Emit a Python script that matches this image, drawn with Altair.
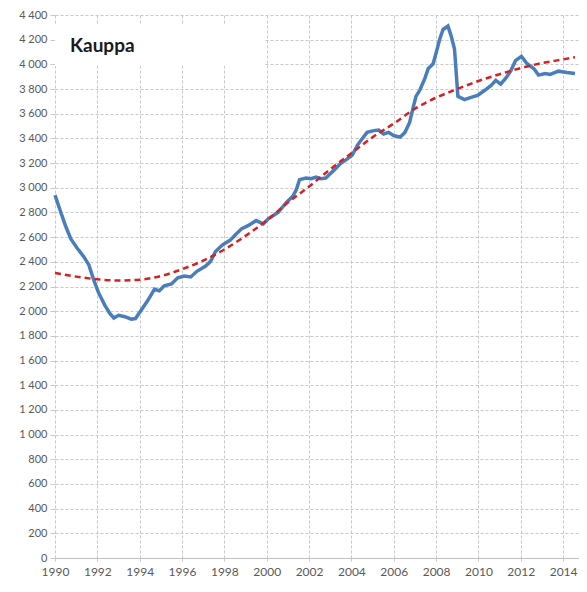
import altair as alt
import pandas as pd

# Blue series
blue_years = [1990.0, 1990.25, 1990.5, 1990.75, 1991.05, 1991.35, 1991.6, 1991.82, 1992.05, 1992.35,
              1992.6, 1992.78, 1993.0, 1993.3, 1993.6, 1993.8, 1994.07, 1994.38, 1994.7, 1994.93,
              1995.16, 1995.5, 1995.8, 1996.1, 1996.41, 1996.72, 1997.1, 1997.35, 1997.58, 1997.9,
              1998.28, 1998.5, 1998.82, 1999.14, 1999.5, 1999.84, 2000.07, 2000.54, 2000.93, 2001.24,
              2001.4, 2001.55, 2001.86, 2002.1, 2002.33, 2002.56, 2002.79, 2002.95, 2003.19, 2003.5,
              2003.73, 2004.04, 2004.28, 2004.51, 2004.74, 2005.06, 2005.29, 2005.52, 2005.76, 2005.99,
              2006.3, 2006.53, 2006.75, 2006.9, 2007.05, 2007.24, 2007.47, 2007.63, 2007.86, 2008.01,
              2008.17, 2008.33, 2008.56, 2008.71, 2008.87, 2009.03, 2009.34, 2009.65, 2009.96, 2010.3,
              2010.6, 2010.82, 2011.05, 2011.3, 2011.52, 2011.75, 2012.03, 2012.3, 2012.61, 2012.84,
              2013.15, 2013.39, 2013.78, 2014.17, 2014.56]
blue_values = [2940, 2814, 2690, 2585, 2510, 2444, 2375, 2258, 2152, 2049,
               1980, 1945, 1967, 1955, 1935, 1940, 2007, 2086, 2178, 2165,
               2205, 2220, 2271, 2285, 2277, 2325, 2364, 2404, 2483, 2536,
               2576, 2615, 2669, 2695, 2734, 2708, 2748, 2801, 2881, 2933,
               2985, 3066, 3079, 3073, 3087, 3073, 3079, 3105, 3145, 3198,
               3224, 3264, 3344, 3397, 3449, 3463, 3468, 3436, 3449, 3423,
               3410, 3449, 3530, 3640, 3740, 3794, 3886, 3966, 4005, 4098,
               4204, 4283, 4310, 4231, 4125, 3741, 3714, 3733, 3749, 3790,
               3830, 3870, 3840, 3890, 3945, 4030, 4065, 4005, 3966, 3913,
               3926, 3918, 3945, 3934, 3926]

# Red dashed trend
trend_years = [1990, 1991, 1992, 1993, 1994, 1995, 1996, 1997, 1998, 1999, 2000, 2001, 2002,
               2003, 2004, 2005, 2006, 2007, 2008, 2009, 2010, 2011, 2012, 2013, 2014, 2014.56]
trend_values = [2310, 2280, 2258, 2248, 2255, 2285, 2340, 2410, 2500, 2610, 2735, 2880, 3010,
                3150, 3280, 3410, 3520, 3640, 3730, 3800, 3865, 3920, 3970, 4010, 4040, 4058]

x_ticks = list(range(1990, 2015, 2))
y_ticks = list(range(0, 4401, 200))
title_text = "Kauppa"

blue_df = pd.DataFrame({"year": blue_years, "value": blue_values})
trend_df = pd.DataFrame({"year": trend_years, "value": trend_values})

xscale = alt.Scale(domain=[1990, 2014.75], nice=False, zero=False)
yscale = alt.Scale(domain=[0, 4400], nice=False)

xaxis = alt.Axis(values=x_ticks, format="d", title=None, grid=True, domain=True,
                 domainColor="#bfbfbf", ticks=True, tickSize=5, tickColor="#c8c8c8",
                 tickDash=[3, 2], labelPadding=3, labelFontSize=12, labelColor="#595959",
                 labelFont="Lato", gridColor="#c8c8c8", gridDash=[3, 2],
                 labelFlush=False, labelOverlap=False)
yaxis = alt.Axis(values=y_ticks, title=None, grid=True, domain=False, ticks=True,
                 tickSize=5, tickColor="#c8c8c8", labelPadding=3, labelFontSize=11,
                 labelColor="#595959", labelFont="Lato", gridColor="#c8c8c8", gridDash=[3, 2],
                 labelOverlap=False, labelFlush=False, labelBound=False,
                 labelExpr="replace(format(datum.value, ','), ',', ' ')")

blue = alt.Chart(blue_df).mark_line(color="#4a7ebb", strokeWidth=3.5).encode(
    x=alt.X("year:Q", scale=xscale, axis=xaxis),
    y=alt.Y("value:Q", scale=yscale, axis=yaxis),
)

trend = alt.Chart(trend_df).mark_line(color="#d42222", strokeWidth=2.5, strokeDash=[6, 4],
                                      interpolate="monotone").encode(
    x=alt.X("year:Q", scale=xscale, axis=xaxis),
    y=alt.Y("value:Q", scale=yscale, axis=yaxis),
)

box = alt.Chart(pd.DataFrame({"t": [title_text]})).mark_rect(color="white").encode(
    x=alt.value(0), x2=alt.value(210), y=alt.value(10), y2=alt.value(51)
)

title = alt.Chart(pd.DataFrame({"t": [title_text]})).mark_text(
    font="Lato", fontSize=19, fontWeight="bold", color="#1a1a1a", align="left",
    baseline="alphabetic"
).encode(text="t:N", x=alt.value(15), y=alt.value(37))

chart = alt.layer(blue, trend, box, title).properties(
    width=524, height=543,
    autosize=alt.AutoSizeParams(type="none"),
    padding={"left": 47, "top": 7, "right": 0, "bottom": 20},
).configure_view(stroke=None).configure_axis(labelOverlap=False)

chart.save("out.html", embed_options={"renderer": "svg", "actions": False})
